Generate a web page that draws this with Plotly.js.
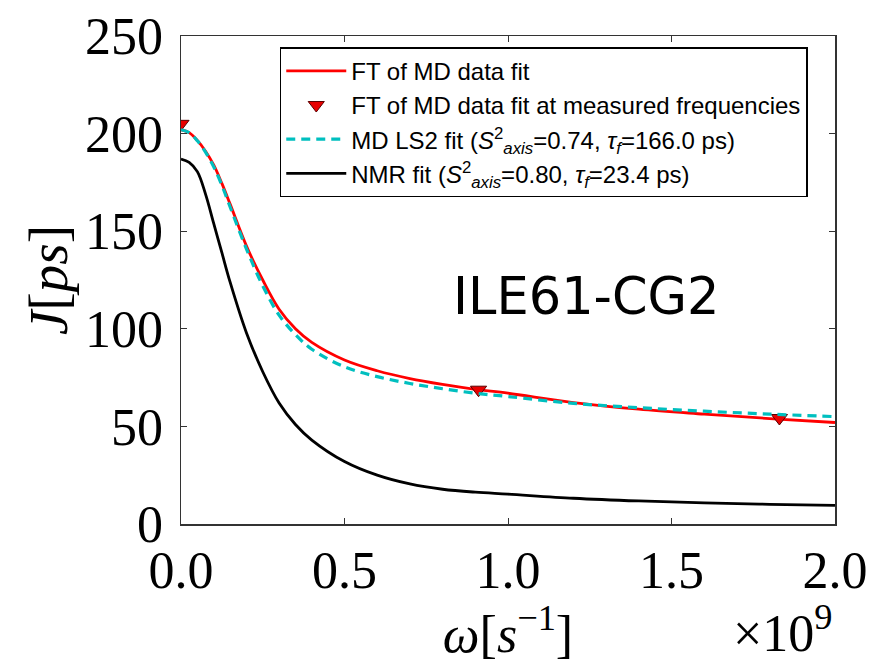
<!DOCTYPE html>
<html>
<head>
<meta charset="utf-8">
<script src="https://cdn.plot.ly/plotly-3.0.1.min.js"></script>
<style>html,body{margin:0;padding:0;background:#fff;}#chart{width:873px;height:663px;}</style>
</head>
<body>
<div id="chart"></div>
<script>
// omega in units of 1e9 s^-1
const omegaGrid = [0, 0.025, 0.05, 0.075, 0.1, 0.125, 0.15, 0.2, 0.25, 0.3, 0.35, 0.4, 0.5, 0.6, 0.7, 0.8, 0.9, 1.0, 1.2, 1.4, 1.6, 1.8, 2.0];
// FT of MD data fit (red)
const jMdFit = [202, 200.5, 196.5, 191, 184, 174.5, 164, 142.5, 125, 110, 100, 93, 84, 78.5, 74.5, 71.5, 69, 67, 62.2, 58.8, 56.3, 54, 52];
// MD LS2 fit (cyan dashed)
const jLs2Fit = [202, 200.5, 196.3, 190.5, 183, 173.5, 162.5, 141, 122, 107, 97, 89.5, 80.5, 75.5, 72, 69.3, 67, 65.3, 61.8, 59.6, 57.8, 56.3, 55];
// NMR fit (black)
const jNmrFit = [187, 185.3, 180.5, 169, 154, 139, 124, 98, 78, 62, 51, 43, 32, 25, 20.5, 17.8, 16.3, 15.3, 13.2, 11.8, 10.8, 10.1, 9.5];
// measured frequencies
const omegaMeasured = [0, 0.91, 1.83];
const jMeasured = [205, 68.8, 54.3];

const xTicks = [0, 0.5, 1.0, 1.5, 2.0];
const yTicks = [0, 50, 100, 150, 200, 250];

const traces = [
  {x: omegaGrid, y: jMdFit, type: 'scatter', mode: 'lines', name: 'FT of MD data fit',
   line: {color: '#ff0000', width: 2.8, shape: 'spline', smoothing: 1}},
  {x: omegaMeasured, y: jMeasured, type: 'scatter', mode: 'markers', name: 'FT of MD data fit at measured frequencies',
   marker: {symbol: 'triangle-down', size: 14, color: '#e80000', line: {color: '#5a0000', width: 1}}},
  {x: omegaGrid, y: jLs2Fit, type: 'scatter', mode: 'lines',
   name: 'MD LS2 fit (<i>S</i><sup>2</sup><sub><i>axis</i></sub>=0.74, <i>τ</i><sub><i>f</i></sub>=166.0 ps)',
   line: {color: '#00bfbf', width: 3.2, dash: '9px,6px', shape: 'spline', smoothing: 1}},
  {x: omegaGrid, y: jNmrFit, type: 'scatter', mode: 'lines',
   name: 'NMR fit (<i>S</i><sup>2</sup><sub><i>axis</i></sub>=0.80, <i>τ</i><sub><i>f</i></sub>=23.4 ps)',
   line: {color: '#000000', width: 2.8, shape: 'spline', smoothing: 1}}
];

const serif = 'Liberation Serif, serif';
const layout = {
  width: 873, height: 663,
  margin: {l: 181, r: 38, t: 36, b: 139},
  paper_bgcolor: '#fff', plot_bgcolor: '#fff',
  showlegend: true,
  legend: {x: 0.151, y: 0.977, xanchor: 'left', yanchor: 'top',
    bordercolor: '#000', borderwidth: 1.5, bgcolor: '#fff',
    font: {family: 'Liberation Sans, Arial, sans-serif', size: 24, color: '#000'},
    itemwidth: 60, tracegroupgap: 0},
  xaxis: {range: [0, 2], tickvals: xTicks, tickformat: '.1f',
    ticks: 'inside', ticklen: 6, tickcolor: '#333', mirror: 'ticks',
    showline: true, linecolor: '#333', linewidth: 1.5, showgrid: false, zeroline: false,
    tickfont: {family: serif, size: 52, color: '#000'},
    title: {text: '<i>ω</i>[<i>s</i><sup>−1</sup>]', font: {family: serif, size: 52, color: '#000'}, standoff: 6}},
  yaxis: {range: [0, 250], tickvals: yTicks,
    ticks: 'inside', ticklen: 6, tickcolor: '#333', mirror: 'ticks',
    showline: true, linecolor: '#333', linewidth: 1.5, showgrid: false, zeroline: false,
    tickfont: {family: serif, size: 52, color: '#000'}, ticklabelstandoff: 6,
    title: {text: '<i>J</i>[<i>ps</i>]', font: {family: serif, size: 55, color: '#000'}, standoff: 0}},
  annotations: [
    {text: 'ILE61-CG2', xref: 'paper', yref: 'paper', x: 0.62, y: 0.466,
     xanchor: 'center', yanchor: 'middle', showarrow: false,
     font: {family: 'DejaVu Sans, sans-serif', size: 51, color: '#000'}},
    {text: '×10<sup>9</sup>', xref: 'paper', yref: 'paper', x: 1.0, y: -0.217,
     xanchor: 'right', yanchor: 'middle', showarrow: false,
     font: {family: serif, size: 52, color: '#000'}}
  ]
};

Plotly.newPlot('chart', traces, layout, {displayModeBar: false, staticPlot: true});
</script>
</body>
</html>
